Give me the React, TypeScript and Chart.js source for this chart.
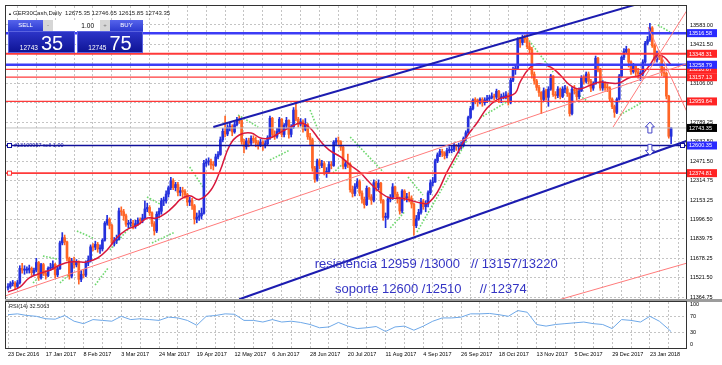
import React, { useEffect, useRef } from 'react';
import { Chart, registerables } from 'chart.js';

Chart.register(...registerables);
Chart.defaults.font.family = '"Liberation Sans", Arial, sans-serif';

// ---------- data ----------
const dateLabels = ['23 Dec 2016', '17 Jan 2017', '8 Feb 2017', '3 Mar 2017', '24 Mar 2017', '19 Apr 2017', '12 May 2017', '6 Jun 2017', '28 Jun 2017', '20 Jul 2017', '11 Aug 2017', '4 Sep 2017', '26 Sep 2017', '18 Oct 2017', '13 Nov 2017', '5 Dec 2017', '29 Dec 2017', '23 Jan 2018'];

const firstOpen = 11440;
const closes = [
  11450, 11473, 11475, 11451, 11481, 11598, 11584, 11584, 11585, 11599,
  11563, 11583, 11646, 11521, 11629, 11555, 11540, 11599, 11603, 11630,
  11545, 11595, 11806, 11848, 11814, 11681, 11535, 11659, 11627, 11651,
  11509, 11549, 11543, 11642, 11666, 11774, 11771, 11794, 11757, 11757,
  11827, 11967, 11998, 11948, 11804, 11823, 11834, 12067, 12060, 12027,
  11958, 11966, 11967, 11943, 11963, 11990, 11988, 12009, 12083, 12095,
  12052, 11962, 11904, 12040, 12064, 12149, 12149, 12204, 12256, 12312,
  12257, 12282, 12218, 12231, 12225, 12200, 12139, 12154, 12109,
  12000, 12016, 12027, 12048, 12455, 12467, 12472, 12443, 12438,
  12507, 12527, 12647, 12716, 12694, 12749, 12757, 12711, 12770,
  12807, 12805, 12631, 12590, 12638, 12619, 12659, 12642, 12621, 12602,
  12628, 12598, 12615, 12664, 12822, 12690, 12675, 12714, 12815,
  12690, 12765, 12806, 12691, 12752, 12889, 12814, 12774, 12794, 12733,
  12770, 12671, 12647, 12416, 12325, 12475, 12437, 12453, 12381, 12388,
  12445, 12437, 12627, 12641, 12631, 12587, 12430, 12452, 12447, 12240,
  12209, 12264, 12305, 12212, 12162, 12118, 12251, 12181, 12154, 12297,
  12257, 12293, 12154, 12014, 12014, 12165, 12177, 12263, 12203, 12165,
  12066, 12229, 12174, 12180, 12168, 12123, 11946, 12002, 12055, 12142,
  12102, 12123, 12215, 12296, 12303, 12475, 12524, 12553, 12540, 12518,
  12559, 12561, 12569, 12600, 12592, 12594, 12605, 12657, 12704, 12828,
  12902, 12970, 12968, 12955, 12976, 12949, 12970, 12982, 12991,
  13003, 12995, 13043, 12990, 12991, 13003, 13013, 12953, 13133, 13217,
  13229, 13465, 13440, 13478, 13468, 13406, 13382, 13182, 13127,
  13074, 13033, 12976, 13047, 12993, 13059, 13167, 13015, 13008, 13060,
  13000, 13060, 13061, 13023, 12861, 13058, 13048, 12999, 13045, 13153,
  13123, 13183, 13125, 13068, 13103, 13312, 13215, 13069, 13109, 13072,
  13070, 12979, 12917, 12871, 12978, 13167, 13319,
  13367, 13385, 13281, 13202, 13245, 13200, 13183, 13184, 13281, 13434,
  13463, 13559, 13414, 13298, 13340, 13324, 13197, 13189, 13003, 12675.35,
  12743.35,
];
const highs = [
  11475, 11490, 11500, 11490, 11500, 11620, 11640, 11620, 11610, 11625,
  11610, 11600, 11680, 11655, 11640, 11640, 11580, 11610, 11640, 11660,
  11640, 11610, 11820, 11890, 11870, 11820, 11690, 11680, 11690, 11670,
  11660, 11580, 11590, 11660, 11700, 11790, 11800, 11820, 11810, 11790,
  11840, 11980, 12030, 12010, 11960, 11850, 11870, 12090, 12100, 12080,
  12040, 11990, 12000, 11990, 11990, 12010, 12010, 12040, 12150, 12130,
  12110, 12060, 11980, 12060, 12090, 12170, 12180, 12230, 12270, 12340,
  12330, 12300, 12300, 12260, 12260, 12240, 12210, 12180, 12170,
  12120, 12050, 12070, 12090, 12480, 12490, 12500, 12490, 12470,
  12530, 12550, 12670, 12740, 12840, 12770, 12790, 12770, 12790,
  12830, 12840, 12810, 12650, 12660, 12660, 12680, 12680, 12670, 12640,
  12650, 12640, 12640, 12680, 12840, 12830, 12720, 12740, 12830,
  12820, 12780, 12830, 12810, 12770, 12910, 12951, 12830, 12820, 12810,
  12820, 12780, 12700, 12660, 12430, 12490, 12490, 12480, 12470, 12420,
  12470, 12470, 12640, 12660, 12670, 12640, 12600, 12480, 12530, 12460,
  12270, 12290, 12330, 12320, 12230, 12180, 12270, 12260, 12200, 12320,
  12310, 12320, 12300, 12160, 12050, 12180, 12200, 12290, 12270, 12220,
  12180, 12240, 12240, 12210, 12220, 12190, 12130, 12030, 12080, 12170,
  12160, 12150, 12230, 12320, 12340, 12490, 12540, 12570, 12570, 12550,
  12580, 12590, 12600, 12620, 12610, 12620, 12630, 12670, 12720, 12840,
  12920, 12980, 12990, 12980, 12990, 12990, 12990, 13010, 13010,
  13030, 13020, 13060, 13050, 13020, 13030, 13040, 13030, 13150, 13240,
  13250, 13480, 13480, 13500, 13500, 13525, 13440, 13400, 13200,
  13140, 13090, 13040, 13070, 13060, 13080, 13180, 13170, 13040, 13080,
  13070, 13080, 13090, 13080, 13030, 13080, 13090, 13060, 13070, 13170,
  13170, 13200, 13200, 13140, 13120, 13330, 13320, 13230, 13130, 13120,
  13100, 13080, 12990, 12930, 12990, 13180, 13330,
  13390, 13410, 13390, 13290, 13270, 13260, 13230, 13210, 13300, 13450,
  13490, 13597, 13570, 13430, 13370, 13370, 13330, 13240, 13200, 13010,
  12746.65,
];
const lows = [
  11420, 11435, 11455, 11430, 11440, 11470, 11560, 11550, 11560, 11560,
  11540, 11540, 11570, 11500, 11510, 11540, 11510, 11530, 11580, 11590,
  11520, 11530, 11590, 11790, 11790, 11660, 11510, 11520, 11600, 11610,
  11470, 11490, 11520, 11530, 11620, 11650, 11740, 11750, 11730, 11720,
  11740, 11820, 11950, 11920, 11790, 11780, 11800, 11830, 12030, 11990,
  11940, 11930, 11940, 11920, 11925, 11950, 11960, 11970, 12000, 12060,
  12030, 11940, 11870, 11890, 12010, 12040, 12110, 12130, 12180, 12240,
  12240, 12230, 12190, 12190, 12180, 12170, 12110, 12110, 12080,
  11960, 11970, 11990, 12000, 12040, 12430, 12440, 12410, 12400,
  12430, 12490, 12520, 12630, 12670, 12680, 12720, 12680, 12700,
  12760, 12780, 12610, 12540, 12570, 12590, 12600, 12620, 12590, 12570,
  12590, 12560, 12580, 12600, 12650, 12670, 12650, 12660, 12700,
  12670, 12670, 12740, 12660, 12670, 12740, 12800, 12750, 12760, 12710,
  12720, 12650, 12600, 12390, 12300, 12310, 12410, 12420, 12360, 12340,
  12370, 12410, 12430, 12600, 12600, 12560, 12410, 12410, 12420, 12220,
  12180, 12190, 12250, 12190, 12130, 12090, 12110, 12160, 12120, 12140,
  12230, 12240, 12130, 11990, 11930, 12000, 12140, 12160, 12180, 12130,
  12040, 12050, 12150, 12140, 12140, 12090, 11870, 11930, 11990, 12040,
  12080, 12060, 12100, 12200, 12270, 12300, 12460, 12510, 12510, 12490,
  12500, 12540, 12540, 12550, 12560, 12540, 12570, 12590, 12640, 12690,
  12820, 12890, 12940, 12920, 12940, 12920, 12930, 12950, 12960,
  12980, 12970, 12980, 12950, 12950, 12980, 12980, 12930, 12940, 13120,
  13180, 13220, 13400, 13420, 13440, 13390, 13350, 13150, 13100,
  13050, 13000, 12860, 12960, 12970, 12920, 13050, 13000, 12980, 12990,
  12980, 12990, 13030, 13000, 12840, 12850, 13020, 12970, 12980, 13040,
  13100, 13110, 13100, 13040, 13050, 13100, 13200, 13050, 13050, 13050,
  13040, 12960, 12900, 12830, 12860, 12970, 13160,
  13300, 13350, 13240, 13180, 13190, 13170, 13150, 13130, 13170, 13270,
  13420, 13450, 13400, 13280, 13280, 13300, 13170, 13160, 12980, 12660,
  12615.85,
];

const maIdx = [0, 5, 9, 14, 18, 22, 26, 31, 33, 38, 42, 46, 50, 55, 59, 63, 67, 71, 73, 77, 81, 86, 90, 94, 98, 103, 107, 111, 115, 119, 124, 128, 132, 136, 141, 145, 149, 153, 158, 162, 166, 170, 175, 178, 182, 186, 190, 194, 199, 203, 207, 211, 215, 217, 221, 225, 230, 234, 238, 242, 247, 251, 255, 259, 263, 268, 272, 275, 278, 281];
const maVals = [11406, 11446, 11520, 11561, 11585, 11626, 11650, 11650, 11650, 11683, 11748, 11846, 11911, 11952, 12009, 12009, 12050, 12120, 12160, 12190, 12160, 12237, 12401, 12604, 12686, 12702, 12661, 12661, 12702, 12743, 12784, 12743, 12645, 12564, 12507, 12441, 12384, 12303, 12213, 12172, 12172, 12156, 12131, 12131, 12221, 12384, 12523, 12661, 12792, 12906, 12971, 12996, 13028, 13118, 13232, 13265, 13240, 13175, 13094, 13061, 13094, 13118, 13110, 13110, 13151, 13175, 13257, 13338, 13322, 13257];

// Parabolic SAR runs: [startBar, startPrice, endBar, endPrice]
const sarRuns = [
  [10.6, 11479, 14.8, 11561], [14.8, 11699, 20.8, 11675], [22, 11479, 27, 11569],
  [29.2, 11903, 36, 11846], [36.9, 11463, 42.4, 11601], [43.2, 11748, 52.5, 11952],
  [58.9, 12180, 64.4, 12123], [61, 11805, 70.8, 11895], [77, 12425, 82.6, 12262],
  [97.5, 12849, 106, 12751], [111, 12482, 119.5, 12564], [128, 12890, 131.4, 12727],
  [137.7, 12376, 142.8, 12466], [145, 12670, 159, 12384], [162, 11928, 168, 12058],
  [169.5, 12343, 175.8, 12197], [173.3, 11895, 187.3, 12360], [188, 12417, 194.5, 12645],
  [200, 12825, 212.7, 12971], [220, 13477, 231, 13200], [240, 13037, 246.6, 12947],
  [259.3, 12849, 269, 12955], [275.4, 13583, 280.5, 13526],
];

const rsiIdx = [0, 4, 8, 12, 16, 20, 24, 28, 32, 36, 40, 44, 48, 52, 56, 60, 64, 68, 72, 76, 80, 84, 88, 92, 96, 100, 104, 108, 112, 116, 120, 124, 128, 132, 136, 140, 144, 148, 152, 156, 160, 164, 168, 172, 176, 180, 184, 188, 192, 196, 200, 204, 208, 212, 216, 220, 224, 228, 232, 236, 240, 244, 248, 252, 256, 260, 264, 268, 272, 276, 280, 281];
const rsiVals = [74, 76, 72, 70, 64, 63, 72, 58, 52, 62, 60, 58, 70, 62, 64, 62, 60, 68, 66, 60, 48, 70, 72, 76, 75, 60, 60, 56, 62, 56, 58, 55, 50, 42, 44, 55, 46, 40, 42, 45, 33, 44, 46, 36, 46, 58, 66, 66, 68, 76, 76, 77, 74, 70, 84, 80, 50, 46, 50, 52, 54, 56, 52, 50, 40, 62, 60, 56, 70, 58, 38, 32.5];

const priceTicks = [13583.0, 13421.5, 13264.75, 13106.0, 12949.25, 12789.25, 12632.5, 12471.5, 12314.75, 12153.25, 11996.5, 11839.75, 11678.25, 11521.5, 11364.75];
const rsiTicks = [0, 30, 70, 100];
const rsiLevels = [30, 70];

const blueLevels = [13516.58, 13258.79];
const redLevels = [13348.31, 13220.67, 13157.13, 12959.64];
const bidLevel = 12743.35;
const orderLevel = 12600.35;
const stopLevel = 12374.81;
const orderText = '#13109957 sell 1.00';

const upperChannel = [[87, 12751], [272, 13783]];
const lowerChannel = [[98, 11346], [290, 12654]];
const longTrend = [[-2, 11368], [290, 13283]];
const lowTrend = [[234, 11345], [290, 11654]];
const fanUp = [[256.4, 12751], [290, 13772]];
const fanDown = [[271.2, 13567], [290, 12778]];
const arrowUpAt = [272, 12792];
const arrowDownAt = [272, 12520];

const notes = ['resistencia 12959 /13000   // 13157/13220', 'soporte 12600 /12510     // 12374'];
const noteAnchors = [[130, 11634], [138.6, 11430]];

const headerText = 'GER30Cash,Daily  12675.35 12746.65 12615.85 12743.35';
const rsiText = 'RSI(14) 32.5063';
const bidQuote = ['12743', '35'];
const askQuote = ['12745', '75'];
const lotText = '1.00';

// ---------- styles ----------
const C = {
  up: '#2430dc',
  down: '#ff6526',
  ma: '#d8183c',
  rsi: '#6ea8e8',
  grid: '#c4c4c4',
  blueLine: '#3c3cf6',
  redLine: '#ff3a3a',
  channel: '#1c1cb0',
  thinRed: '#ff7b7b',
  order: '#10109a',
  bid: '#c0c0c0',
  note: '#3434c4',
  frame: '#333',
  sar: '#6fd86f',
};
const AX_FONT = { size: 5.5, family: '"Liberation Sans", Arial, sans-serif' };
const X_MIN = -0.85;
const X_MAX = 287.3;

const gridIdx = dateLabels.flatMap((_, k) => [k * 16, k * 16 + 8]);

const sarPlugin = {
  id: 'sarPlugin',
  beforeDatasetsDraw(chart: any) {
    const { ctx, chartArea: a } = chart;
    const xs = chart.scales.x;
    const ys = chart.scales.y;
    ctx.save();
    ctx.beginPath();
    ctx.rect(a.left, a.top, a.right - a.left, a.bottom - a.top);
    ctx.clip();
    ctx.strokeStyle = C.sar;
    ctx.lineWidth = 1.6;
    ctx.setLineDash([1.6, 1.6]);
    sarRuns.forEach((r) => {
      ctx.beginPath();
      ctx.moveTo(xs.getPixelForValue(r[0]), ys.getPixelForValue(r[1]));
      ctx.lineTo(xs.getPixelForValue(r[2]), ys.getPixelForValue(r[3]));
      ctx.stroke();
    });
    ctx.restore();
  },
};

const mainOverlay = {
  id: 'mainOverlay',
  afterDatasetsDraw(chart: any) {
    const { ctx, chartArea: a } = chart;
    const xs = chart.scales.x;
    const ys = chart.scales.y;
    const X = (v: number) => xs.getPixelForValue(v);
    const Y = (v: number) => ys.getPixelForValue(v);
    ctx.save();
    ctx.beginPath();
    ctx.rect(a.left, a.top, a.right - a.left, a.bottom - a.top);
    ctx.clip();
    const hline = (p: number, color: string, w: number) => {
      ctx.strokeStyle = color;
      ctx.lineWidth = w;
      ctx.beginPath();
      const yy = Y(p);
      ctx.moveTo(a.left, yy);
      ctx.lineTo(a.right, yy);
      ctx.stroke();
    };
    const seg = (pts: number[][], color: string, w: number) => {
      ctx.strokeStyle = color;
      ctx.lineWidth = w;
      ctx.beginPath();
      ctx.moveTo(X(pts[0][0]), Y(pts[0][1]));
      ctx.lineTo(X(pts[1][0]), Y(pts[1][1]));
      ctx.stroke();
    };
    hline(bidLevel, C.bid, 1);
    redLevels.forEach((p, k) => hline(p, C.redLine, k === 0 ? 2 : 1.2));
    blueLevels.forEach((p) => hline(p, C.blueLine, 2.5));
    hline(orderLevel, C.order, 1.5);
    hline(stopLevel, C.redLine, 1.6);

    seg(longTrend, C.thinRed, 1);
    seg(lowTrend, C.thinRed, 1);
    seg(fanUp, C.thinRed, 1);
    seg(fanDown, C.thinRed, 1);
    seg(upperChannel, C.channel, 2);
    seg(lowerChannel, C.channel, 2);

    const arrow = (at: number[], dir: number) => {
      const x = X(at[0]);
      const y = Y(at[1]);
      const pts = [[0, 0], [4.5, 5], [2, 5], [2, 11], [-2, 11], [-2, 5], [-4.5, 5]];
      ctx.beginPath();
      pts.forEach(([dx, dy], k) => {
        const px = x + dx;
        const py = y + dir * dy;
        if (k === 0) ctx.moveTo(px, py); else ctx.lineTo(px, py);
      });
      ctx.closePath();
      ctx.fillStyle = '#ffffff';
      ctx.fill();
      ctx.strokeStyle = '#4646c8';
      ctx.lineWidth = 1;
      ctx.stroke();
    };
    arrow(arrowUpAt, 1);
    arrow(arrowDownAt, -1);

    ctx.font = '5.5px "Liberation Sans", Arial, sans-serif';
    ctx.fillStyle = C.order;
    ctx.textBaseline = 'middle';
    ctx.textAlign = 'left';
    ctx.fillText(orderText, a.left + 8, Y(orderLevel) - 0.5);
    ctx.lineWidth = 1;
    ctx.strokeStyle = C.order;
    ctx.fillStyle = '#fff';
    ctx.fillRect(a.left + 1.5, Y(orderLevel) - 2, 4, 4);
    ctx.strokeRect(a.left + 1.5, Y(orderLevel) - 2, 4, 4);
    ctx.fillRect(a.right - 5.5, Y(orderLevel) - 2, 4, 4);
    ctx.strokeRect(a.right - 5.5, Y(orderLevel) - 2, 4, 4);
    ctx.strokeStyle = C.redLine;
    ctx.fillRect(a.left + 1.5, Y(stopLevel) - 2, 4, 4);
    ctx.strokeRect(a.left + 1.5, Y(stopLevel) - 2, 4, 4);

    ctx.font = '13px "Liberation Sans", Arial, sans-serif';
    ctx.fillStyle = C.note;
    notes.forEach((t, k) => ctx.fillText(t, X(noteAnchors[k][0]), Y(noteAnchors[k][1])));
    ctx.restore();

    ctx.save();
    ctx.font = '5.5px "Liberation Sans", Arial, sans-serif';
    ctx.textBaseline = 'middle';
    ctx.textAlign = 'left';
    const tag = (p: number, bg: string) => {
      const yy = Y(p);
      ctx.fillStyle = bg;
      ctx.fillRect(a.right + 1, yy - 4, 30, 8);
      ctx.fillStyle = '#fff';
      ctx.fillText(p.toFixed(2), a.right + 3, yy + 0.3);
    };
    redLevels.forEach((p) => tag(p, '#ff2424'));
    blueLevels.forEach((p) => tag(p, '#2a2aff'));
    tag(stopLevel, '#ff2424');
    tag(orderLevel, '#2a2aff');
    tag(bidLevel, '#000000');
    ctx.strokeStyle = C.frame;
    ctx.lineWidth = 1;
    ctx.strokeRect(a.left - 0.5, a.top - 0.5, a.right - a.left + 1, a.bottom - a.top + 1);
    ctx.restore();
  },
};

const frameOnly = {
  id: 'frameOnly',
  afterDraw(chart: any) {
    const { ctx, chartArea: a } = chart;
    ctx.save();
    ctx.strokeStyle = C.frame;
    ctx.lineWidth = 1;
    ctx.strokeRect(a.left - 0.5, a.top - 0.5, a.right - a.left + 1, a.bottom - a.top + 1);
    ctx.restore();
  },
};

export default function App() {
  const mainRef = useRef<HTMLCanvasElement>(null);
  const rsiRef = useRef<HTMLCanvasElement>(null);

  useEffect(() => {
    const opens = closes.map((c, i) => (i === 0 ? firstOpen : closes[i - 1]));
    const colors = closes.map((c, i) => (c >= opens[i] ? C.up : C.down));

    const xCommon = (showLabels: boolean, h: number) => ({
      type: 'linear' as const,
      min: X_MIN,
      max: X_MAX,
      offset: false,
      afterBuildTicks: (s: any) => {
        s.ticks = gridIdx.map((v) => ({ value: v }));
      },
      afterFit: (s: any) => {
        s.height = h;
        s.paddingLeft = 0;
        s.paddingRight = 0;
      },
      grid: { color: C.grid, lineWidth: 1, drawTicks: false },
      border: { display: false, dash: [2, 2] },
      ticks: {
        display: showLabels,
        autoSkip: false,
        maxRotation: 0,
        align: 'start' as const,
        padding: 3,
        color: '#000',
        font: AX_FONT,
        callback: (v: any) => (Number(v) % 16 === 0 ? dateLabels[Number(v) / 16] : ''),
      },
    });

    const main = new Chart(mainRef.current as HTMLCanvasElement, {
      type: 'bar',
      data: {
        datasets: [
          {
            type: 'line',
            data: maIdx.map((v, k) => ({ x: v, y: maVals[k] })),
            borderColor: C.ma,
            borderWidth: 1.5,
            pointRadius: 0,
            tension: 0.4,
            order: 0,
          } as any,
          {
            type: 'bar',
            data: closes.map((c, i) => ({ x: i, y: [opens[i], c] })),
            backgroundColor: colors,
            barThickness: 2,
            grouped: false,
            minBarLength: 1,
            order: 1,
          } as any,
          {
            type: 'bar',
            data: closes.map((c, i) => ({ x: i, y: [lows[i], highs[i]] })),
            backgroundColor: colors,
            barThickness: 1,
            grouped: false,
            order: 2,
          } as any,
        ],
      },
      options: {
        animation: false,
        responsive: false,
        maintainAspectRatio: false,
        devicePixelRatio: 1,
        layout: { padding: { left: 6, top: 6, right: 0, bottom: 1 }, autoPadding: false } as any,
        plugins: { legend: { display: false }, tooltip: { enabled: false } },
        events: [],
        scales: {
          x: xCommon(false, 0) as any,
          y: {
            type: 'linear',
            position: 'right',
            min: 11348.5,
            max: 13737.9,
            afterBuildTicks: (s: any) => {
              s.ticks = priceTicks.map((v) => ({ value: v }));
            },
            afterFit: (s: any) => {
              s.width = 36;
              s.paddingTop = 0;
              s.paddingBottom = 0;
            },
            grid: { color: C.grid, lineWidth: 1, drawTicks: false },
            border: { display: false, dash: [2, 2] },
            ticks: {
              padding: 4,
              color: '#000',
              font: AX_FONT,
              callback: (v: any) => Number(v).toFixed(2),
            },
          } as any,
        },
      },
      plugins: [sarPlugin, mainOverlay],
    });

    const rsi = new Chart(rsiRef.current as HTMLCanvasElement, {
      type: 'line',
      data: {
        datasets: [
          {
            data: rsiIdx.map((v, k) => ({ x: v, y: rsiVals[k] })),
            borderColor: C.rsi,
            borderWidth: 1,
            pointRadius: 0,
            tension: 0,
          },
        ],
      },
      options: {
        animation: false,
        responsive: false,
        maintainAspectRatio: false,
        devicePixelRatio: 1,
        layout: { padding: { left: 6, top: 2, right: 0, bottom: 0 }, autoPadding: false } as any,
        plugins: { legend: { display: false }, tooltip: { enabled: false } },
        events: [],
        scales: {
          x: xCommon(true, 17) as any,
          y: {
            type: 'linear',
            position: 'right',
            min: -7.5,
            max: 105,
            afterBuildTicks: (s: any) => {
              s.ticks = rsiTicks.map((v) => ({ value: v }));
            },
            afterFit: (s: any) => {
              s.width = 36;
              s.paddingTop = 0;
              s.paddingBottom = 0;
            },
            grid: {
              drawTicks: false,
              color: (c: any) => (c.tick && rsiLevels.includes(c.tick.value) ? C.grid : 'rgba(0,0,0,0)'),
            },
            border: { display: false, dash: [2, 2] },
            ticks: { padding: 4, color: '#000', font: AX_FONT },
          } as any,
        },
      },
      plugins: [frameOnly],
    });

    return () => {
      main.destroy();
      rsi.destroy();
    };
  }, []);

  const btn = (bg: string): React.CSSProperties => ({
    position: 'absolute',
    top: 0,
    height: 11,
    background: bg,
    color: '#fff',
    fontSize: 6,
    lineHeight: '11px',
    textAlign: 'center',
  });
  const box: React.CSSProperties = {
    position: 'absolute',
    top: 11,
    height: 22,
    background: 'linear-gradient(#2c34c8, #0e1496)',
    color: '#fff',
    display: 'flex',
    alignItems: 'baseline',
    justifyContent: 'center',
    lineHeight: '22px',
    boxSizing: 'border-box',
    border: '1px solid #5a62e0',
  };

  return (
    <div
      style={{
        position: 'fixed',
        left: 0,
        top: 0,
        width: 722,
        height: 365,
        background: '#fff',
        overflow: 'hidden',
        fontFamily: '"Liberation Sans", Arial, sans-serif',
      }}
    >
      <canvas ref={mainRef} width={722} height={300} style={{ position: 'absolute', left: 0, top: 0 }} />
      <div style={{ position: 'absolute', left: 5, top: 299, width: 717, height: 3, background: '#9c9c9c' }} />
      <canvas ref={rsiRef} width={722} height={65} style={{ position: 'absolute', left: 0, top: 300 }} />

      <div style={{ position: 'absolute', left: 8, top: 10, fontSize: 6, lineHeight: '7px', color: '#222', whiteSpace: 'pre' }}>
        <span style={{ fontSize: 4 }}>▲ </span>
        {headerText}
      </div>

      <div style={{ position: 'absolute', left: 8, top: 20, width: 135, height: 33 }}>
        <div style={{ ...btn('linear-gradient(#5664ec, #2c3ad0)'), left: 0, width: 35 }}>SELL</div>
        <div style={{ ...btn('#d6d6d6'), left: 35, width: 10, color: '#777' }}>-</div>
        <div style={{ ...btn('#ffffff'), left: 45, width: 47, color: '#000', textAlign: 'right', paddingRight: 6, boxSizing: 'border-box', fontSize: 6.5 }}>{lotText}</div>
        <div style={{ ...btn('#d6d6d6'), left: 92, width: 10, color: '#777' }}>+</div>
        <div style={{ ...btn('linear-gradient(#5664ec, #2c3ad0)'), left: 102, width: 33 }}>BUY</div>
        <div style={{ ...box, left: 0, width: 67 }}>
          <span style={{ fontSize: 6.5, marginRight: 3 }}>{bidQuote[0]}</span>
          <span style={{ fontSize: 20 }}>{bidQuote[1]}</span>
        </div>
        <div style={{ ...box, left: 69, width: 66 }}>
          <span style={{ fontSize: 6.5, marginRight: 3 }}>{askQuote[0]}</span>
          <span style={{ fontSize: 20 }}>{askQuote[1]}</span>
        </div>
      </div>

      <div style={{ position: 'absolute', left: 9, top: 303, fontSize: 5.5, lineHeight: '6px', color: '#222' }}>{rsiText}</div>
    </div>
  );
}
